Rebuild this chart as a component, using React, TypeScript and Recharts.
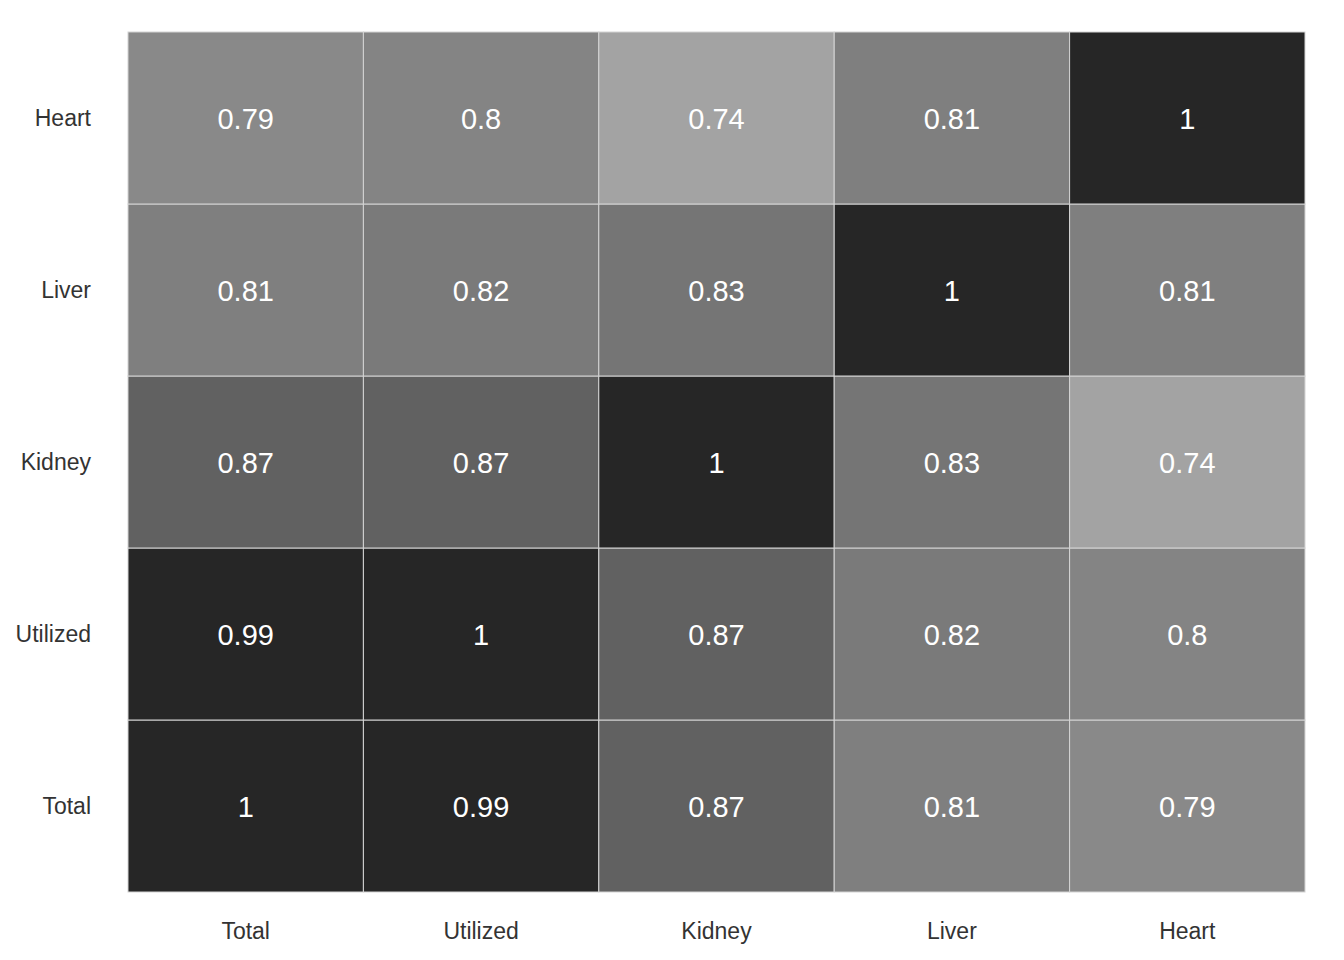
import { ScatterChart, Scatter, XAxis, YAxis } from 'recharts';

const labels = ['Total', 'Utilized', 'Kidney', 'Liver', 'Heart'];

// correlation matrix, row = y label (bottom to top), column = x label
const rowTotal = [1, 0.99, 0.87, 0.81, 0.79];
const rowUtilized = [0.99, 1, 0.87, 0.82, 0.8];
const rowKidney = [0.87, 0.87, 1, 0.83, 0.74];
const rowLiver = [0.81, 0.82, 0.83, 1, 0.81];
const rowHeart = [0.79, 0.8, 0.74, 0.81, 1];

const rows = [rowTotal, rowUtilized, rowKidney, rowLiver, rowHeart];

const cells = rows.flatMap((row, y) => row.map((v, x) => ({ x, y, v })));

const W = 1344;
const H = 960;
const M = { top: 32, right: 39, bottom: 0, left: 0 };
const Y_W = 128;
const X_H = 68;
const cellW = (W - M.left - M.right - Y_W) / 5;
const cellH = (H - M.top - M.bottom - X_H) / 5;

const grayFor = (v: number) => {
  // light for 0.74, near-black from ~0.98 up
  const t = Math.min(1, Math.max(0, (v - 0.74) / 0.245));
  const g = Math.round(163 - t * (163 - 38));
  const h = g.toString(16).padStart(2, '0');
  return `#${h}${h}${h}`;
};

const Cell = (props: any) => {
  const { cx, cy, payload } = props;
  return (
    <g>
      <rect
        x={cx - cellW / 2}
        y={cy - cellH / 2}
        width={cellW}
        height={cellH}
        fill={grayFor(payload.v)}
        stroke="#d4d4d4"
        strokeWidth={1}
      />
      <text
        x={cx}
        y={cy + 1}
        textAnchor="middle"
        dominantBaseline="central"
        fill="#ffffff"
        fontSize={29}
        fontFamily="'Liberation Sans', Arial, sans-serif"
      >
        {payload.v}
      </text>
    </g>
  );
};

const tickStyle = { fill: '#333333', fontSize: 23, fontFamily: "'Liberation Sans', Arial, sans-serif" };

export default function App() {
  return (
    <div style={{ margin: -8, width: W, height: H, background: '#fff' }}>
      <ScatterChart width={W} height={H} margin={M}>
        <XAxis
          type="number"
          dataKey="x"
          domain={[-0.5, 4.5]}
          ticks={[0, 1, 2, 3, 4]}
          tickFormatter={(i: number) => labels[i]}
          axisLine={false}
          tickLine={false}
          tickSize={0}
          tickMargin={31}
          height={X_H}
          tick={tickStyle}
          interval={0}
        />
        <YAxis
          type="number"
          dataKey="y"
          domain={[-0.5, 4.5]}
          ticks={[0, 1, 2, 3, 4]}
          tickFormatter={(i: number) => labels[i]}
          axisLine={false}
          tickLine={false}
          tickSize={0}
          tickMargin={37}
          width={Y_W}
          tick={tickStyle}
          interval={0}
        />
        <Scatter data={cells} shape={Cell} isAnimationActive={false} />
      </ScatterChart>
    </div>
  );
}
